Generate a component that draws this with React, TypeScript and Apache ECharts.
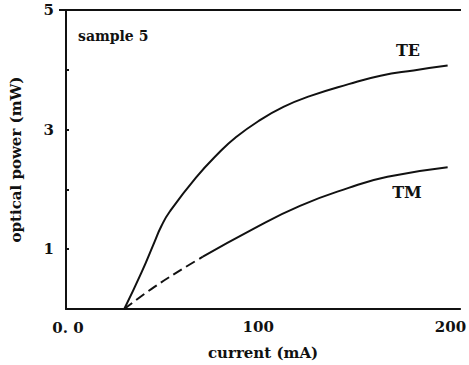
import React, { useEffect, useRef } from "react";
import * as echarts from "echarts";

const teCurrent = [30.3, 39.4, 46.0, 49.5, 54.0, 67.7, 79.8, 87.9, 100, 113.1, 126.8, 147, 163.6, 180.8, 198.5];
const tePower = [0, 0.62, 1.12, 1.38, 1.63, 2.2, 2.62, 2.86, 3.14, 3.38, 3.56, 3.76, 3.9, 3.99, 4.07];

const tmDashCurrent = [30.3, 46, 61.1, 71.2];
const tmDashPower = [0, 0.37, 0.68, 0.875];
const tmCurrent = [71.2, 96.5, 121.7, 147, 167.2, 198.5];
const tmPower = [0.875, 1.325, 1.725, 2.025, 2.21, 2.37];

const yTicks = [1, 3, 5];
const xTicks = [100, 200];

const FONT = "DejaVu Serif";

export default function App() {
  const ref = useRef<HTMLDivElement>(null);
  useEffect(() => {
    const chart = echarts.init(ref.current!, undefined, { renderer: "svg" });
    const zip = (a: number[], b: number[]) => a.map((v, i) => [v, b[i]]);
    chart.setOption({
      animation: false,
      backgroundColor: "#fff",
      grid: { left: 59, top: 10, right: 4, bottom: 55 },
      xAxis: {
        type: "value",
        min: 0,
        max: 205,
        interval: 100,
        name: "current (mA)",
        nameLocation: "middle",
        nameGap: 36,
        nameTextStyle: { fontFamily: FONT, fontWeight: "bold", fontSize: 15, color: "#111" },
        axisLine: { lineStyle: { color: "#111", width: 2 } },
        axisTick: { show: false },
        splitLine: { show: false },
        axisLabel: {
          margin: 10,
          fontFamily: FONT,
          fontWeight: "bold",
          fontSize: 15,
          color: "#111",
          showMaxLabel: false,
          formatter: (v: number) => (xTicks.includes(v) ? String(v) : ""),
        },
      },
      yAxis: {
        type: "value",
        min: 0,
        max: 5,
        interval: 1,
        name: "optical power (mW)",
        nameLocation: "middle",
        nameGap: 43,
        nameTextStyle: { fontFamily: FONT, fontWeight: "bold", fontSize: 15, color: "#111" },
        axisLine: { lineStyle: { color: "#111", width: 2 } },
        axisTick: { show: true, inside: true, length: 3, lineStyle: { color: "#111", width: 2 } },
        splitLine: { show: false },
        axisLabel: {
          margin: 12,
          fontFamily: FONT,
          fontWeight: "bold",
          fontSize: 15,
          color: "#111",
          formatter: (v: number) => (yTicks.includes(v) ? String(v) : ""),
        },
      },
      graphic: [
        { type: "line", shape: { x1: 59, y1: 10, x2: 461, y2: 10 }, style: { stroke: "#111", lineWidth: 2 } },
        { type: "text", x: 68, y: 328, style: { text: "0. 0", fontFamily: FONT, fontWeight: "bold", fontSize: 15, fill: "#111", align: "center", verticalAlign: "middle" } },
        { type: "text", x: 78, y: 36, style: { text: "sample 5", fontFamily: FONT, fontWeight: "bold", fontSize: 14, fill: "#111", align: "left", verticalAlign: "middle" } },
        { type: "text", x: 408, y: 50, style: { text: "TE", fontFamily: FONT, fontWeight: "bold", fontSize: 16, fill: "#111", align: "center", verticalAlign: "middle" } },
        { type: "text", x: 407, y: 192, style: { text: "TM", fontFamily: FONT, fontWeight: "bold", fontSize: 16, fill: "#111", align: "center", verticalAlign: "middle" } },
      ],
      series: [
        {
          type: "line",
          name: "TE",
          data: zip(teCurrent, tePower),
          smooth: 0.5,
          showSymbol: false,
          lineStyle: { color: "#111", width: 2 },
        },
        {
          type: "line",
          name: "TM dashed",
          data: zip(tmDashCurrent, tmDashPower),
          smooth: 0.4,
          showSymbol: false,
          lineStyle: { color: "#111", width: 2, type: [10, 5] },
        },
        {
          type: "line",
          name: "TM",
          data: zip(tmCurrent, tmPower),
          smooth: 0.5,
          showSymbol: false,
          lineStyle: { color: "#111", width: 2 },
        },
      ],
    });
    return () => chart.dispose();
  }, []);
  return <div ref={ref} style={{ position: "fixed", left: 0, top: 0, width: 469, height: 365 }} />;
}
